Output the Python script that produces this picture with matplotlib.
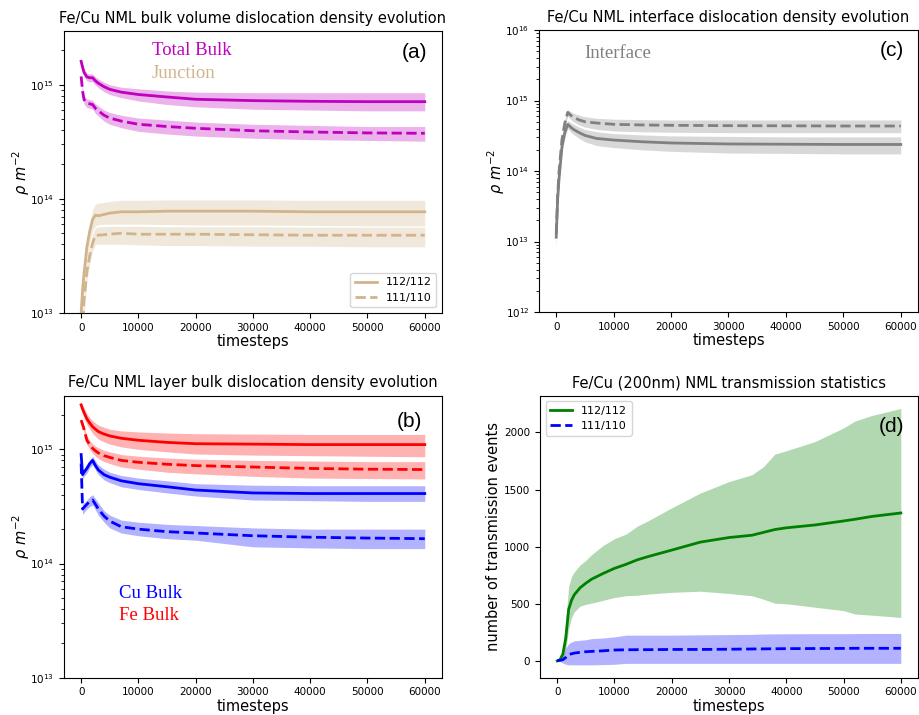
import numpy as np
import matplotlib
matplotlib.use("Agg")
import matplotlib.pyplot as plt

# timesteps at which the averaged densities were sampled
t = [0, 250, 500, 1000, 1500, 2000, 2500, 3000, 4000, 5000, 7000, 10000,
     15000, 20000, 30000, 40000, 50000, 60000]

# (a) bulk volume densities
total_112 = [1.60e15, 1.42e15, 1.28e15, 1.17e15, 1.15e15, 1.15e15, 1.08e15, 1.03e15, 0.96e15,
             0.91e15, 0.86e15, 0.82e15, 0.78e15, 0.745e15, 0.725e15, 0.715e15, 0.71e15, 0.71e15]
total_112_hi = [1.70e15, 1.52e15, 1.38e15, 1.26e15, 1.24e15, 1.24e15, 1.17e15, 1.12e15, 1.05e15,
                1.00e15, 0.95e15, 0.92e15, 0.88e15, 0.86e15, 0.85e15, 0.85e15, 0.85e15, 0.85e15]
total_112_lo = [1.50e15, 1.32e15, 1.18e15, 1.08e15, 1.06e15, 1.06e15, 0.99e15, 0.94e15, 0.87e15,
                0.82e15, 0.77e15, 0.72e15, 0.67e15, 0.64e15, 0.61e15, 0.60e15, 0.59e15, 0.59e15]
total_111 = [1.18e15, 0.88e15, 0.74e15, 0.69e15, 0.68e15, 0.67e15, 0.62e15, 0.59e15, 0.54e15,
             0.51e15, 0.48e15, 0.45e15, 0.43e15, 0.415e15, 0.395e15, 0.385e15, 0.378e15, 0.375e15]
total_111_hi = [1.25e15, 0.94e15, 0.80e15, 0.75e15, 0.74e15, 0.73e15, 0.68e15, 0.65e15, 0.60e15,
                0.57e15, 0.54e15, 0.51e15, 0.49e15, 0.47e15, 0.45e15, 0.44e15, 0.43e15, 0.43e15]
total_111_lo = [1.10e15, 0.82e15, 0.68e15, 0.63e15, 0.62e15, 0.61e15, 0.56e15, 0.53e15, 0.48e15,
                0.45e15, 0.42e15, 0.39e15, 0.37e15, 0.355e15, 0.34e15, 0.33e15, 0.325e15, 0.32e15]
junc_112 = [1.0e13, 1.6e13, 2.2e13, 3.8e13, 5.2e13, 6.6e13, 7.2e13, 7.1e13, 7.3e13,
            7.5e13, 7.7e13, 7.7e13, 7.8e13, 7.8e13, 7.8e13, 7.7e13, 7.7e13, 7.7e13]
junc_112_hi = [1.3e13, 2.0e13, 2.8e13, 4.6e13, 6.2e13, 8.0e13, 9.0e13, 9.2e13, 9.3e13,
               9.5e13, 9.7e13, 9.7e13, 9.8e13, 9.8e13, 9.8e13, 9.7e13, 9.7e13, 9.7e13]
junc_112_lo = [0.8e13, 1.2e13, 1.7e13, 3.0e13, 4.2e13, 5.3e13, 5.8e13, 5.95e13, 6.0e13,
               6.0e13, 6.0e13, 6.0e13, 5.95e13, 5.9e13, 5.9e13, 5.85e13, 5.8e13, 5.8e13]
junc_111 = [0.35e13, 0.8e13, 1.3e13, 2.3e13, 3.2e13, 4.1e13, 4.8e13, 4.8e13, 4.85e13,
            4.9e13, 5.0e13, 4.9e13, 4.9e13, 4.9e13, 4.85e13, 4.8e13, 4.8e13, 4.8e13]
junc_111_hi = [0.5e13, 1.0e13, 1.6e13, 2.8e13, 3.9e13, 4.9e13, 5.6e13, 5.7e13, 5.7e13,
               5.75e13, 5.75e13, 5.75e13, 5.7e13, 5.7e13, 5.7e13, 5.65e13, 5.65e13, 5.65e13]
junc_111_lo = [0.25e13, 0.6e13, 1.0e13, 1.9e13, 2.7e13, 3.5e13, 4.0e13, 4.0e13, 4.0e13,
               4.0e13, 4.0e13, 3.95e13, 3.9e13, 3.9e13, 3.85e13, 3.85e13, 3.8e13, 3.8e13]

# (b) layer bulk densities
fe_112 = [2.45e15, 2.25e15, 2.1e15, 1.85e15, 1.7e15, 1.58e15, 1.5e15, 1.43e15, 1.36e15,
          1.31e15, 1.25e15, 1.2e15, 1.15e15, 1.12e15, 1.11e15, 1.1e15, 1.1e15, 1.1e15]
fe_112_hi = [2.6e15, 2.45e15, 2.3e15, 2.05e15, 1.9e15, 1.78e15, 1.7e15, 1.63e15, 1.56e15,
             1.5e15, 1.45e15, 1.42e15, 1.39e15, 1.37e15, 1.36e15, 1.35e15, 1.35e15, 1.35e15]
fe_112_lo = [2.3e15, 2.08e15, 1.9e15, 1.65e15, 1.5e15, 1.38e15, 1.3e15, 1.23e15, 1.16e15,
             1.11e15, 1.05e15, 1.0e15, 0.95e15, 0.91e15, 0.89e15, 0.88e15, 0.87e15, 0.86e15]
fe_111 = [1.8e15, 1.65e15, 1.5e15, 1.2e15, 1.1e15, 1.02e15, 0.97e15, 0.93e15, 0.88e15,
          0.85e15, 0.8e15, 0.77e15, 0.74e15, 0.72e15, 0.7e15, 0.68e15, 0.67e15, 0.665e15]
fe_111_hi = [1.9e15, 1.75e15, 1.6e15, 1.32e15, 1.2e15, 1.12e15, 1.07e15, 1.03e15, 0.98e15,
             0.95e15, 0.9e15, 0.87e15, 0.84e15, 0.82e15, 0.8e15, 0.79e15, 0.78e15, 0.78e15]
fe_111_lo = [1.7e15, 1.55e15, 1.4e15, 1.1e15, 1.0e15, 0.92e15, 0.87e15, 0.83e15, 0.78e15,
             0.75e15, 0.7e15, 0.67e15, 0.63e15, 0.61e15, 0.58e15, 0.56e15, 0.555e15, 0.55e15]
cu_112 = [0.9e15, 0.6e15, 0.63e15, 0.68e15, 0.75e15, 0.8e15, 0.72e15, 0.66e15, 0.6e15,
          0.57e15, 0.53e15, 0.5e15, 0.47e15, 0.44e15, 0.415e15, 0.41e15, 0.41e15, 0.41e15]
cu_112_hi = [0.95e15, 0.65e15, 0.68e15, 0.74e15, 0.81e15, 0.87e15, 0.79e15, 0.73e15, 0.67e15,
             0.63e15, 0.59e15, 0.56e15, 0.53e15, 0.5e15, 0.485e15, 0.48e15, 0.48e15, 0.48e15]
cu_112_lo = [0.85e15, 0.55e15, 0.58e15, 0.62e15, 0.69e15, 0.73e15, 0.66e15, 0.6e15, 0.54e15,
             0.51e15, 0.47e15, 0.445e15, 0.415e15, 0.39e15, 0.36e15, 0.355e15, 0.35e15, 0.35e15]
cu_111 = [0.75e15, 0.3e15, 0.31e15, 0.33e15, 0.35e15, 0.36e15, 0.33e15, 0.3e15, 0.26e15,
          0.235e15, 0.21e15, 0.2e15, 0.19e15, 0.185e15, 0.175e15, 0.17e15, 0.167e15, 0.165e15]
cu_111_hi = [0.8e15, 0.33e15, 0.34e15, 0.36e15, 0.385e15, 0.4e15, 0.37e15, 0.34e15, 0.29e15,
             0.265e15, 0.24e15, 0.23e15, 0.22e15, 0.215e15, 0.205e15, 0.2e15, 0.2e15, 0.2e15]
cu_111_lo = [0.7e15, 0.27e15, 0.28e15, 0.3e15, 0.315e15, 0.325e15, 0.295e15, 0.265e15, 0.23e15,
             0.205e15, 0.185e15, 0.175e15, 0.165e15, 0.16e15, 0.14e15, 0.137e15, 0.135e15, 0.135e15]

# (c) interface densities
intf_112 = [1.15e13, 4.0e13, 8.0e13, 2.2e14, 3.5e14, 4.6e14, 4.2e14, 3.9e14, 3.5e14,
            3.2e14, 2.9e14, 2.75e14, 2.6e14, 2.5e14, 2.42e14, 2.4e14, 2.38e14, 2.38e14]
intf_112_hi = [1.4e13, 4.8e13, 9.5e13, 2.6e14, 4.0e14, 5.2e14, 4.9e14, 4.6e14, 4.2e14,
               3.9e14, 3.6e14, 3.4e14, 3.25e14, 3.15e14, 3.1e14, 3.05e14, 3.05e14, 3.05e14]
intf_112_lo = [0.8e13, 3.2e13, 6.5e13, 1.85e14, 3.0e14, 4.0e14, 3.6e14, 3.3e14, 2.9e14,
               2.6e14, 2.3e14, 2.15e14, 2.0e14, 1.9e14, 1.8e14, 1.78e14, 1.75e14, 1.75e14]
intf_111 = [1.3e13, 4.5e13, 1.0e14, 2.8e14, 4.8e14, 6.8e14, 6.2e14, 5.8e14, 5.3e14,
            5.0e14, 4.8e14, 4.6e14, 4.5e14, 4.45e14, 4.4e14, 4.38e14, 4.35e14, 4.35e14]
intf_111_hi = [1.5e13, 5.2e13, 1.15e14, 3.2e14, 5.4e14, 7.4e14, 7.0e14, 6.6e14, 6.2e14,
               5.9e14, 5.6e14, 5.45e14, 5.35e14, 5.3e14, 5.3e14, 5.3e14, 5.3e14, 5.3e14]
intf_111_lo = [1.1e13, 3.8e13, 0.85e14, 2.4e14, 4.2e14, 6.0e14, 5.4e14, 5.0e14, 4.5e14,
               4.2e14, 3.9e14, 3.7e14, 3.6e14, 3.55e14, 3.5e14, 3.5e14, 3.5e14, 3.5e14]

# (d) cumulative transmission events
t_d = [0, 500, 1000, 1500, 2000, 2500, 3000, 4000, 5000, 6000, 8000, 10000, 12000, 14000,
       16000, 20000, 25000, 30000, 34000, 36000, 38000, 40000, 45000, 50000, 52000, 55000, 60000]
trans_112 = [0, 10, 60, 200, 450, 530, 580, 640, 680, 715, 765, 810, 845, 885,
             915, 970, 1040, 1080, 1100, 1125, 1150, 1165, 1190, 1225, 1240, 1265, 1295]
trans_112_hi = [0, 20, 120, 350, 650, 740, 780, 840, 880, 930, 1010, 1070, 1110, 1180,
                1230, 1340, 1470, 1570, 1630, 1700, 1810, 1840, 1920, 2040, 2100, 2150, 2210]
trans_112_lo = [0, 0, 20, 100, 280, 380, 430, 480, 495, 505, 530, 555, 570, 575,
                585, 600, 610, 590, 570, 540, 505, 500, 470, 440, 410, 400, 380]
trans_111 = [0, 5, 10, 30, 55, 62, 68, 75, 80, 83, 88, 95, 97, 98,
             98, 100, 100, 102, 104, 105, 106, 107, 108, 109, 110, 110, 110]
trans_111_hi = [0, 10, 40, 110, 150, 165, 175, 180, 185, 195, 200, 210, 225, 225,
                225, 225, 228, 230, 232, 235, 236, 237, 238, 238, 239, 240, 240]
trans_111_lo = [0, -5, -20, -30, -35, -35, -35, -35, -35, -35, -33, -30, -22, -22,
                -22, -22, -22, -22, -22, -22, -22, -22, -22, -22, -22, -22, -22]

TAN = "tan"
LW = 2.0
TICK_FS = 7.5
LEGEND_FS = 8
LABEL_FS = 10.5
TITLE_FS = 10.5
SERIF = ["Liberation Serif", "DejaVu Serif"]
SANS = ["Liberation Sans", "DejaVu Sans"]

plt.rcParams["xtick.labelsize"] = TICK_FS
plt.rcParams["ytick.labelsize"] = TICK_FS

fig = plt.figure(figsize=(9.19, 7.15), dpi=100)
ax_a = fig.add_axes([0.0696, 0.5622, 0.4113, 0.3944])
ax_c = fig.add_axes([0.5865, 0.5636, 0.4124, 0.3944])
ax_b = fig.add_axes([0.0696, 0.0522, 0.4113, 0.3944])
ax_d = fig.add_axes([0.5876, 0.0522, 0.4113, 0.3944])


def band(ax, x, mid, lo, hi, color, ls, label=None):
    ax.fill_between(x, lo, hi, color=color, alpha=0.3, linewidth=0)
    ax.plot(x, mid, color=color, ls=ls, lw=LW, label=label)


def density_axes(ax, title):
    ax.set_yscale("log")
    ax.set_xlim(-3000, 63000)
    ax.set_xticks(range(0, 60001, 10000))
    ax.set_xlabel("timesteps", fontsize=LABEL_FS, labelpad=1)
    ax.set_ylabel(r"$\rho\ m^{-2}$", fontsize=LABEL_FS, labelpad=-1)
    ax.set_title(title, fontsize=TITLE_FS)


# (a) bulk volume
band(ax_a, t, total_112, total_112_lo, total_112_hi, "m", "-")
band(ax_a, t, total_111, total_111_lo, total_111_hi, "m", "--")
band(ax_a, t, junc_112, junc_112_lo, junc_112_hi, TAN, "-", "112/112")
band(ax_a, t, junc_111, junc_111_lo, junc_111_hi, TAN, "--", "111/110")
density_axes(ax_a, "Fe/Cu NML bulk volume dislocation density evolution")
ax_a.set_ylim(1e13, 2.95e15)
ax_a.legend(loc="lower right", fontsize=LEGEND_FS)
ax_a.text(0.233, 0.915, "Total Bulk", transform=ax_a.transAxes, color="m",
          fontsize=13.5, family=SERIF)
ax_a.text(0.233, 0.833, "Junction", transform=ax_a.transAxes, color=TAN,
          fontsize=13.5, family=SERIF)
ax_a.text(0.894, 0.925, "(a)", transform=ax_a.transAxes, fontsize=15,
          family=SANS, va="center")

# (c) interface
band(ax_c, t, intf_112, intf_112_lo, intf_112_hi, "gray", "-")
band(ax_c, t, intf_111, intf_111_lo, intf_111_hi, "gray", "--")
density_axes(ax_c, "Fe/Cu NML interface dislocation density evolution")
ax_c.set_ylim(1e12, 1e16)
ax_c.text(0.119, 0.9, "Interface", transform=ax_c.transAxes, color="gray",
          fontsize=13.5, family=SERIF)
ax_c.text(0.898, 0.929, "(c)", transform=ax_c.transAxes, fontsize=15,
          family=SANS, va="center")

# (b) layer bulk
band(ax_b, t, fe_112, fe_112_lo, fe_112_hi, "r", "-")
band(ax_b, t, fe_111, fe_111_lo, fe_111_hi, "r", "--")
band(ax_b, t, cu_112, cu_112_lo, cu_112_hi, "b", "-")
band(ax_b, t, cu_111, cu_111_lo, cu_111_hi, "b", "--")
density_axes(ax_b, "Fe/Cu NML layer bulk dislocation density evolution")
ax_b.set_ylim(1e13, 2.95e15)
ax_b.text(0.146, 0.283, "Cu Bulk", transform=ax_b.transAxes, color="b",
          fontsize=13.5, family=SERIF)
ax_b.text(0.146, 0.205, "Fe Bulk", transform=ax_b.transAxes, color="r",
          fontsize=13.5, family=SERIF)
ax_b.text(0.881, 0.908, "(b)", transform=ax_b.transAxes, fontsize=15,
          family=SANS, va="center")

# (d) transmission counts
band(ax_d, t_d, trans_112, trans_112_lo, trans_112_hi, "g", "-", "112/112")
band(ax_d, t_d, trans_111, trans_111_lo, trans_111_hi, "b", "--", "111/110")
ax_d.set_xlim(-3000, 63000)
ax_d.set_xticks(range(0, 60001, 10000))
ax_d.set_yticks(range(0, 2001, 500))
ax_d.set_xlabel("timesteps", fontsize=LABEL_FS, labelpad=1)
ax_d.set_ylabel("number of transmission events", fontsize=LABEL_FS, labelpad=2)
ax_d.set_title("Fe/Cu (200nm) NML transmission statistics", fontsize=TITLE_FS)
ax_d.legend(loc="upper left", fontsize=LEGEND_FS)
ax_d.text(0.895, 0.89, "(d)", transform=ax_d.transAxes, fontsize=15,
          family=SANS, va="center")

fig.savefig("out.png", dpi=100)
